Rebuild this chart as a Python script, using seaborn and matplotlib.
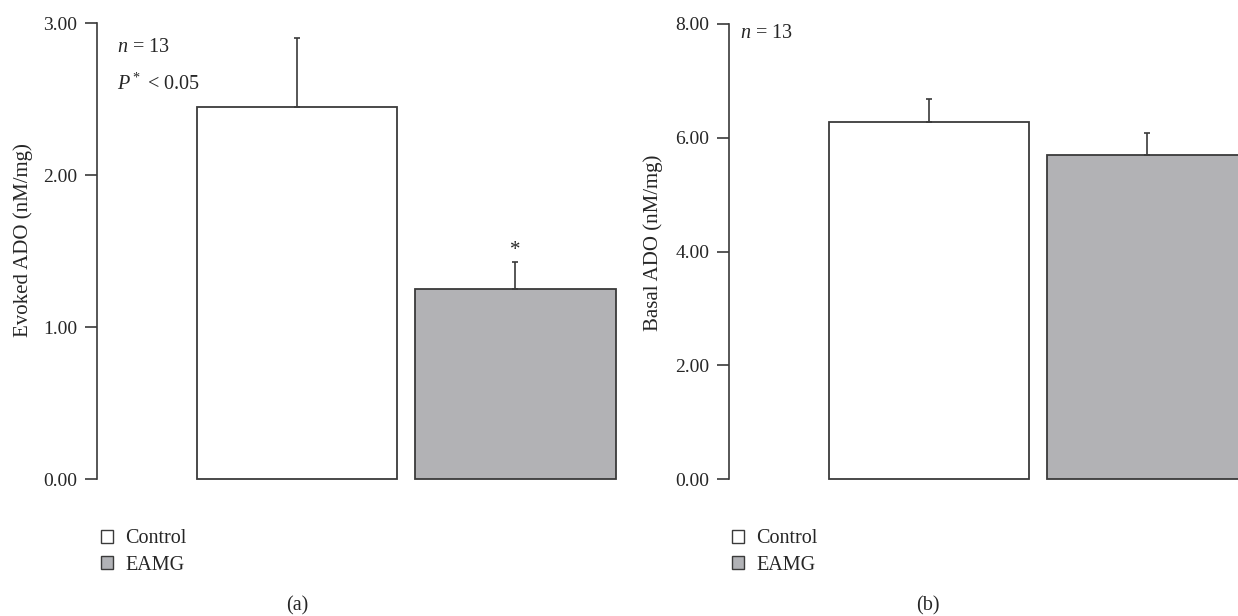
import numpy as np
import pandas as pd
import seaborn as sns
import matplotlib.pyplot as plt
from matplotlib.patches import Patch

groups = ["Control", "EAMG"]
evoked_mean = [2.45, 1.25]
evoked_err = [0.45, 0.18]
basal_mean = [6.28, 5.69]
basal_err = [0.40, 0.40]

bar_colors = ["#ffffff", "#b1b2b6"]
edge = "#3a3a3a"

sns.set_style("ticks")
plt.rcParams['font.family'] = ['Liberation Serif', 'DejaVu Serif']
plt.rcParams['mathtext.fontset'] = 'custom'
plt.rcParams['mathtext.it'] = 'Liberation Serif:italic'
plt.rcParams['mathtext.rm'] = 'Liberation Serif'

fig = plt.figure(figsize=(12.38, 6.16), dpi=100)
ax_a = fig.add_axes([97 / 1238, 137 / 616, 519 / 1238, 456 / 616])
ax_b = fig.add_axes([729 / 1238, 137 / 616, 518 / 1238, 455 / 616])


def draw_panel(ax, means, errs, ymax, ylabel):
    df = pd.DataFrame({"group": groups, "value": means})
    sns.barplot(data=df, x="group", y="value", hue="group", palette=bar_colors,
                legend=False, width=0.917, edgecolor=edge, linewidth=1.3, ax=ax)
    for p in ax.patches:
        p.set_clip_on(False)
    ax.errorbar(np.arange(len(groups)), means, yerr=[np.zeros(len(errs)), errs],
                fmt="none", ecolor=edge, elinewidth=1.2, capsize=2.5, capthick=1.2)
    ax.set_xlim(-0.915, 1.46)
    ax.set_ylim(0, ymax)
    ticks = np.linspace(0, ymax, 4) if ymax == 3 else np.linspace(0, ymax, 5)
    ax.set_yticks(ticks)
    ax.set_yticklabels([f"{t:.2f}" for t in ticks])
    ax.set_xticks([])
    ax.set_xlabel("")
    ax.set_ylabel(ylabel, fontsize=15)
    sns.despine(ax=ax, bottom=True)
    ax.spines["left"].set_color(edge)
    ax.spines["left"].set_linewidth(1.2)
    ax.tick_params(axis="y", length=9, width=1.2, color=edge, labelsize=14, pad=5)
    ax.patch.set_alpha(0)


draw_panel(ax_a, evoked_mean, evoked_err, 3, "Evoked ADO (nM/mg)")
draw_panel(ax_b, basal_mean, basal_err, 8, "Basal ADO (nM/mg)")
ax_a.yaxis.set_label_coords(-0.123, 0.525)
ax_b.yaxis.set_label_coords(-0.127, 0.52)

# annotations
fig.text(117 / 1238, 1 - 47 / 616, r"$n$ = 13", fontsize=14.5, va="center")
fig.text(117 / 1238, 1 - 84 / 616, r"$P^*$ < 0.05", fontsize=14.5, va="center")
fig.text(740 / 1238, 1 - 34 / 616, r"$n$ = 13", fontsize=14.5, va="center")
ax_a.text(1, evoked_mean[1] + evoked_err[1] + 0.01, "*", ha="center", va="bottom", fontsize=15)

# legends and captions
handles = [Patch(facecolor=c, edgecolor=edge, linewidth=1.0) for c in bar_colors]
for x0 in [101 / 1238, 101 / 1238 + 631 / 1238]:
    fig.legend(handles, groups, loc="center left", bbox_to_anchor=(x0, 1 - 552 / 616),
               frameon=False, fontsize=14.5, handlelength=0.6, handleheight=0.6,
               handletextpad=0.6, labelspacing=0.35, borderpad=0, borderaxespad=0)
fig.text(297 / 1238, 1 - 606 / 616, "(a)", ha="center", va="center", fontsize=14.5)
fig.text(928 / 1238, 1 - 606 / 616, "(b)", ha="center", va="center", fontsize=14.5)

fig.savefig("out.png", dpi=100)
